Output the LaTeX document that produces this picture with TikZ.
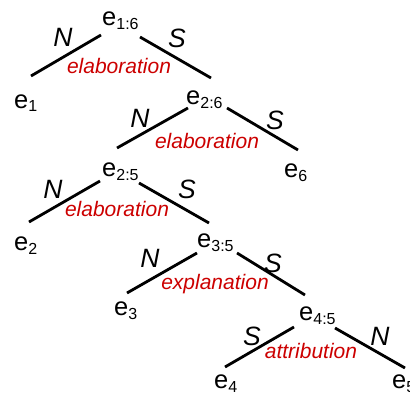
\documentclass[tikz,border=0pt]{standalone}
\usepackage{fontspec}
\setmainfont{Liberation Sans}
\definecolor{relred}{RGB}{204,0,0}
\newcommand{\eNode}[1]{e\raisebox{-4pt}{\fontsize{16}{16}\selectfont #1}}
\begin{document}
\begin{tikzpicture}[x=1pt,y=-1pt,
  edu/.style={anchor=base west,inner sep=0pt,font=\fontsize{25.5}{25.5}\selectfont},
  nuc/.style={anchor=base,inner sep=0pt,font=\fontsize{26.5}{26.5}\selectfont\itshape},
  rel/.style={anchor=base,inner sep=0pt,text=relred,font=\fontsize{21}{21}\selectfont\itshape},
  arc/.style={line width=2.8pt}]
\useasboundingbox (0,0) rectangle (410,396);
% EDU nodes
\node[edu] (e16) at (102,25.5) {\eNode{1:6}};
\node[edu] (e1) at (14,108) {\eNode{1}};
\node[edu] (e26) at (186,104) {\eNode{2:6}};
\node[edu] (e6) at (284,177) {\eNode{6}};
\node[edu] (e25) at (102,176) {\eNode{2:5}};
\node[edu] (e2) at (14,250) {\eNode{2}};
\node[edu] (e35) at (197,247) {\eNode{3:5}};
\node[edu] (e3) at (114,315) {\eNode{3}};
\node[edu] (e45) at (299,320) {\eNode{4:5}};
\node[edu] (e4) at (214,388) {\eNode{4}};
\node[edu] (e5) at (392,388) {\eNode{5}};
% arc end points
\coordinate (a1) at (101,35);  \coordinate (b1) at (31,76);
\coordinate (c1) at (140,37);  \coordinate (d1) at (211,78);
\coordinate (a2) at (188,108); \coordinate (b2) at (117,148);
\coordinate (c2) at (227,108); \coordinate (d2) at (298,150);
\coordinate (a3) at (100,181); \coordinate (b3) at (29,222);
\coordinate (c3) at (139,183); \coordinate (d3) at (209,223);
\coordinate (a4) at (197,253); \coordinate (b4) at (127,293);
\coordinate (c4) at (237,253); \coordinate (d4) at (305,295);
\coordinate (a5) at (294,327); \coordinate (b5) at (225,367);
\coordinate (c5) at (335,328); \coordinate (d5) at (405,368);
\draw[arc] (a1) -- (b1); \draw[arc] (c1) -- (d1);
\draw[arc] (a2) -- (b2); \draw[arc] (c2) -- (d2);
\draw[arc] (a3) -- (b3); \draw[arc] (c3) -- (d3);
\draw[arc] (a4) -- (b4); \draw[arc] (c4) -- (d4);
\draw[arc] (a5) -- (b5); \draw[arc] (c5) -- (d5);
% nuclearity labels
\node[nuc] (n1) at (63,47) {N};
\node[nuc] (s1) at (177,48) {S};
\node[nuc] (n2) at (140,128) {N};
\node[nuc] (s2) at (275,129) {S};
\node[nuc] (n3) at (53,198) {N};
\node[nuc] (s3) at (187,198) {S};
\node[nuc] (n4) at (150,267) {N};
\node[nuc] (s4) at (273,272) {S};
\node[nuc] (s5) at (252,345) {S};
\node[nuc] (n5) at (380,345) {N};
% relation labels
\node[rel] (r1) at (119,74) {elaboration};
\node[rel] (r2) at (207,148) {elaboration};
\node[rel] (r3) at (117,216) {elaboration};
\node[rel] (r4) at (215,289) {explanation};
\node[rel] (r5) at (311,358) {attribution};
\end{tikzpicture}
\end{document}
